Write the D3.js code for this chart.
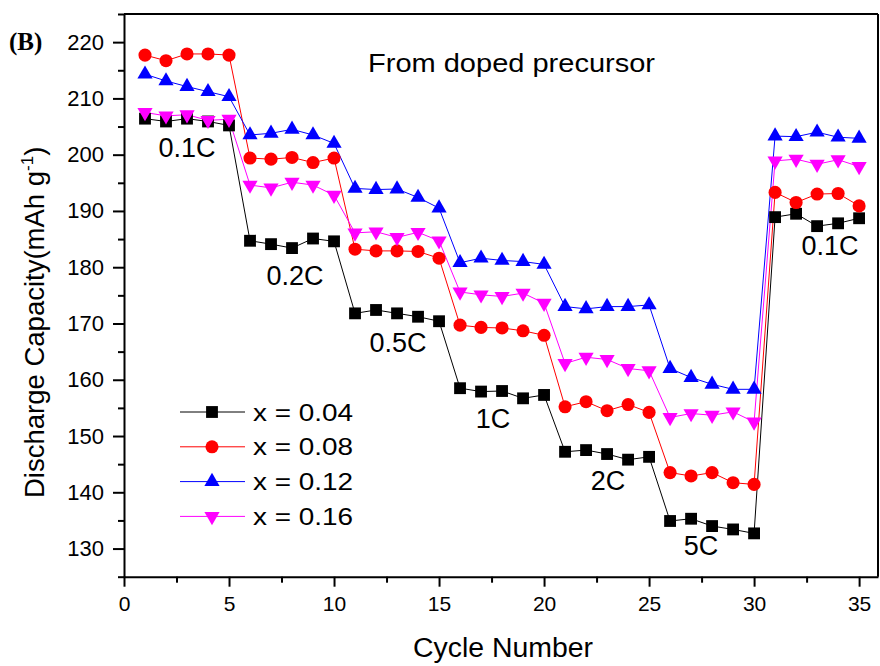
<!DOCTYPE html>
<html>
<head>
<meta charset="utf-8">
<script src="https://cdn.jsdelivr.net/npm/d3@7"></script>
<style>
  html, body { margin: 0; padding: 0; background: #fff; }
  svg { display: block; font-family: "Liberation Sans", Arial, sans-serif; }
</style>
</head>
<body>
<svg id="chart" width="880" height="666"></svg>
<script>
// ---- data ----
const cycles = d3.range(1, 36);
const seriesNames = ["x = 0.04", "x = 0.08", "x = 0.12", "x = 0.16"];
const seriesColors = ["#000000", "#ff0000", "#0000ff", "#ff00ff"];
const seriesSymbols = ["square", "circle", "triangle", "triangleDown"];
const s004 = [206.4, 205.9, 206.4, 205.9, 205.2, 184.7, 184.1, 183.4, 185.1, 184.6,
              171.8, 172.4, 171.8, 171.2, 170.4, 158.5, 157.9, 158.0, 156.7, 157.3,
              147.2, 147.5, 146.8, 145.8, 146.3, 134.9, 135.3, 134.0, 133.4, 132.7,
              188.9, 189.5, 187.3, 187.8, 188.7];
const s008 = [217.7, 216.7, 217.9, 217.9, 217.7, 199.4, 199.2, 199.5, 198.6, 199.4,
              183.2, 182.9, 182.9, 182.8, 181.6, 169.7, 169.3, 169.2, 168.7, 167.9,
              155.2, 156.1, 154.5, 155.6, 154.2, 143.5, 142.9, 143.5, 141.7, 141.4,
              193.3, 191.5, 193.0, 193.1, 190.9];
const s012 = [214.3, 213.1, 212.1, 211.2, 210.3, 203.5, 203.8, 204.5, 203.5, 202.0,
              194.0, 193.8, 193.9, 192.4, 190.5, 180.8, 181.6, 181.2, 181.0, 180.5,
              173.0, 172.6, 173.0, 173.0, 173.3, 162.0, 160.4, 159.2, 158.3, 158.3,
              203.3, 203.2, 204.0, 203.1, 202.9];
const s016 = [207.5, 206.9, 207.1, 206.1, 206.3, 194.6, 194.1, 195.1, 194.6, 192.8,
              186.1, 186.3, 185.3, 186.2, 184.7, 175.6, 175.1, 174.8, 175.4, 173.6,
              162.9, 164.0, 163.6, 162.0, 161.6, 153.3, 154.0, 153.7, 154.3, 152.5,
              198.9, 199.2, 198.3, 199.1, 197.9];
const seriesValues = [s004, s008, s012, s016];
const xTicks = [0, 5, 10, 15, 20, 25, 30, 35];
const xMinorTicks = [2.5, 7.5, 12.5, 17.5, 22.5, 27.5, 32.5];
const yTicks = [130, 140, 150, 160, 170, 180, 190, 200, 210, 220];
const yMinorTicks = [125, 135, 145, 155, 165, 175, 185, 195, 205, 215, 225];
const rateLabels = ["0.1C", "0.2C", "0.5C", "1C", "2C", "5C", "0.1C"];
const rateLabelAt = [199.6, 176.8, 165.0, 151.4, 140.4, 128.9, 182.2]; // baseline, in capacity units
const rateLabelX = [187, 295, 398, 493, 608, 701, 830];                // centre, pixels

// ---- layout ----
const svg = d3.select("#chart");
const L = 124, R = 878, T = 14, B = 576.7;
const x = d3.scaleLinear().domain([0, 35.9]).range([L, R]);
const y = d3.scaleLinear().domain([125, 225]).range([B, T]);
const FONT = "Liberation Sans, Arial, sans-serif";

// frame (top & right)
svg.append("line").attr("x1", L).attr("x2", R).attr("y1", T).attr("y2", T)
  .attr("stroke", "#000").attr("stroke-width", 2);
svg.append("line").attr("x1", R).attr("x2", R).attr("y1", T).attr("y2", B)
  .attr("stroke", "#000").attr("stroke-width", 2);

// axes
function styleAxis(g) {
  g.select(".domain").attr("stroke-width", 2);
  g.selectAll(".tick line").attr("stroke-width", 2);
}
const gx = svg.append("g").attr("transform", `translate(0,${B})`)
  .call(d3.axisBottom(x).tickValues(xTicks).tickSize(10).tickSizeOuter(0).tickPadding(9).tickFormat(d3.format("d")));
styleAxis(gx);
gx.selectAll("text").attr("font-size", 21).attr("fill", "#000").attr("font-family", FONT);
const gxm = svg.append("g").attr("transform", `translate(0,${B})`)
  .call(d3.axisBottom(x).tickValues(xMinorTicks).tickSize(6).tickSizeOuter(0).tickFormat(""));
gxm.select(".domain").remove();
gxm.selectAll(".tick line").attr("stroke-width", 2);

const gy = svg.append("g").attr("transform", `translate(${L},0)`)
  .call(d3.axisLeft(y).tickValues(yTicks).tickSize(11).tickSizeOuter(0).tickPadding(9).tickFormat(d3.format("d")));
styleAxis(gy);
gy.selectAll("text").attr("font-size", 22).attr("fill", "#000").attr("font-family", FONT);
const gym = svg.append("g").attr("transform", `translate(${L},0)`)
  .call(d3.axisLeft(y).tickValues(yMinorTicks).tickSize(6).tickSizeOuter(0).tickFormat(""));
gym.select(".domain").remove();
gym.selectAll(".tick line").attr("stroke-width", 2);

// axis titles
svg.append("text").attr("x", 503).attr("y", 657)
  .attr("text-anchor", "middle").attr("font-size", 27)
  .attr("textLength", 180).attr("lengthAdjust", "spacingAndGlyphs").text("Cycle Number");
const yt = svg.append("text").attr("transform", "translate(44,498) rotate(-90)")
  .attr("text-anchor", "start").attr("font-size", 27.5);
yt.append("tspan").text("Discharge Capacity(mAh g");
yt.append("tspan").attr("font-size", 17).attr("dy", -11).text("-1");
yt.append("tspan").attr("dy", 11).text(")");

// panel tag
svg.append("text").attr("x", 9).attr("y", 50)
  .attr("font-family", "Liberation Serif, Times New Roman, serif")
  .attr("font-weight", "bold").attr("font-size", 25).text("(B)");

// series
const symbolMap = {
  square: { type: d3.symbolSquare, size: 140, rot: 0 },
  circle: { type: d3.symbolCircle, size: 135, rot: 0 },
  triangle: { type: d3.symbolTriangle, size: 100, rot: 0 },
  triangleDown: { type: d3.symbolTriangle, size: 100, rot: 180 }
};
const line = d3.line().x(d => x(d[0])).y(d => y(d[1]));
seriesValues.forEach((vals, i) => {
  const pts = cycles.map((c, k) => [c, vals[k]]);
  svg.append("path").datum(pts).attr("d", line)
    .attr("fill", "none").attr("stroke", seriesColors[i]).attr("stroke-width", 1);
});
seriesValues.forEach((vals, i) => {
  const sm = symbolMap[seriesSymbols[i]];
  const pts = cycles.map((c, k) => [c, vals[k]]);
  svg.append("g").selectAll("path").data(pts).join("path")
    .attr("transform", d => `translate(${x(d[0])},${y(d[1])}) rotate(${sm.rot})`)
    .attr("d", d3.symbol().type(sm.type).size(sm.size))
    .attr("fill", seriesColors[i]);
});

// rate labels
rateLabels.forEach((t, i) => {
  svg.append("text").attr("x", rateLabelX[i]).attr("y", y(rateLabelAt[i]))
    .attr("text-anchor", "middle").attr("font-size", 27).text(t);
});

// annotation
svg.append("text").attr("x", 511.5).attr("y", 72).attr("text-anchor", "middle")
  .attr("font-size", 26.5).attr("textLength", 287).attr("lengthAdjust", "spacingAndGlyphs")
  .text("From doped precursor");

// legend
const legY0 = 412, legDy = 34.8;
seriesNames.forEach((name, i) => {
  const yy = legY0 + i * legDy;
  const sm = symbolMap[seriesSymbols[i]];
  svg.append("line").attr("x1", 180).attr("x2", 245).attr("y1", yy).attr("y2", yy)
    .attr("stroke", seriesColors[i]).attr("stroke-width", 1);
  svg.append("path").attr("transform", `translate(212,${yy}) rotate(${sm.rot})`)
    .attr("d", d3.symbol().type(sm.type).size(sm.size)).attr("fill", seriesColors[i]);
  svg.append("text").attr("x", 253).attr("y", yy + 8.5).attr("font-size", 24)
    .attr("textLength", 100).attr("lengthAdjust", "spacingAndGlyphs").text(name);
});
</script>
</body>
</html>
